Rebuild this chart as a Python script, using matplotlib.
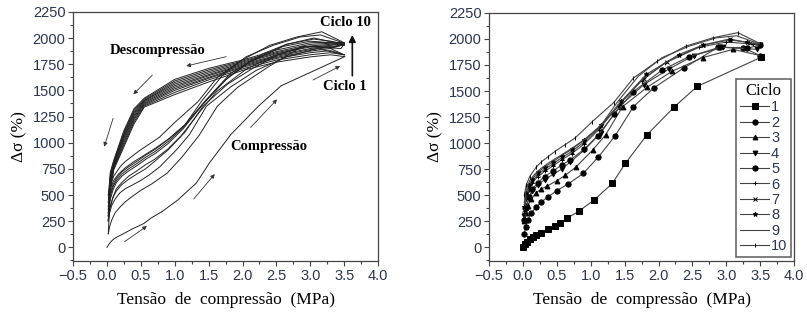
import numpy as np
import matplotlib.pyplot as plt
from matplotlib.ticker import MultipleLocator

## ------------------
## Data (compression branch, right panel and left panel loading)
## ------------------
c1_x = [0.0, 0.03, 0.06, 0.1, 0.15, 0.2, 0.27, 0.37, 0.47, 0.55, 0.65, 0.82, 1.05, 1.32, 1.51, 1.83, 2.23, 2.57, 3.51]
c1_y = [0, 30, 55, 80, 100, 115, 140, 175, 205, 230, 280, 345, 455, 615, 805, 1080, 1346, 1544, 1823]
c2_x = [0.02, 0.04, 0.07, 0.12, 0.2, 0.27, 0.37, 0.5, 0.67, 0.89, 1.11, 1.36, 1.63, 1.93, 2.37, 2.88, 3.25, 3.5]
c2_y = [130, 200, 260, 330, 390, 435, 485, 545, 610, 710, 865, 1070, 1350, 1530, 1720, 1920, 1915, 1840]
c3_x = [0.02, 0.04, 0.07, 0.12, 0.19, 0.27, 0.36, 0.5, 0.62, 0.78, 1.03, 1.22, 1.47, 1.83, 2.2, 2.65, 3.1, 3.5]
c3_y = [250, 330, 400, 460, 520, 560, 590, 640, 690, 770, 935, 1080, 1350, 1535, 1690, 1820, 1900, 1840]
c4_x = [0.02, 0.05, 0.09, 0.14, 0.22, 0.32, 0.44, 0.57, 0.7, 0.9, 1.15, 1.42, 1.78, 2.15, 2.52, 2.95, 3.45, 3.5]
c4_y = [300, 400, 480, 540, 600, 650, 700, 750, 820, 930, 1100, 1350, 1560, 1710, 1840, 1920, 1900, 1940]
c5_x = [0.02, 0.05, 0.09, 0.14, 0.22, 0.32, 0.44, 0.57, 0.7, 0.9, 1.1, 1.35, 1.62, 2.05, 2.45, 2.9, 3.3, 3.5]
c5_y = [260, 380, 480, 560, 620, 680, 730, 790, 840, 940, 1070, 1280, 1490, 1700, 1830, 1920, 1910, 1940]
c6_x = [0.02, 0.05, 0.09, 0.14, 0.22, 0.32, 0.44, 0.57, 0.72, 0.9, 1.12, 1.42, 1.75, 2.1, 2.6, 3.0, 3.4, 3.5]
c6_y = [330, 460, 550, 620, 680, 730, 780, 840, 900, 990, 1130, 1370, 1600, 1770, 1920, 1970, 1950, 1930]
c7_x = [0.02, 0.05, 0.09, 0.14, 0.22, 0.32, 0.44, 0.57, 0.72, 0.9, 1.13, 1.43, 1.78, 2.12, 2.65, 3.05, 3.35, 3.5]
c7_y = [360, 490, 580, 640, 700, 750, 800, 860, 920, 1010, 1150, 1380, 1620, 1780, 1940, 2000, 1960, 1950]
c8_x = [0.02, 0.05, 0.09, 0.14, 0.22, 0.32, 0.44, 0.57, 0.72, 0.9, 1.15, 1.45, 1.82, 2.3, 2.65, 3.05, 3.3, 3.5]
c8_y = [390, 520, 600, 660, 720, 770, 820, 880, 940, 1030, 1170, 1400, 1660, 1850, 1940, 1990, 1970, 1940]
c9_x = [0.02, 0.05, 0.1, 0.17, 0.27, 0.4, 0.55, 0.72, 0.92, 1.15, 1.4, 1.7, 2.05, 2.45, 2.85, 3.15, 3.5]
c9_y = [430, 560, 640, 700, 760, 820, 880, 950, 1040, 1170, 1400, 1640, 1820, 1930, 2010, 2030, 1950]
c10_x = [0.02, 0.05, 0.1, 0.2, 0.27, 0.37, 0.47, 0.62, 0.77, 1.02, 1.34, 1.63, 1.98, 2.4, 2.8, 3.17, 3.5]
c10_y = [500, 600, 680, 775, 820, 870, 920, 985, 1050, 1205, 1390, 1625, 1785, 1930, 2010, 2060, 1955]

## Decompression branch (left panel only)
d_x = [3.5, 3.3, 3.0, 2.5, 2.0, 1.5, 1.0, 0.55, 0.4, 0.25, 0.1, 0.05, 0.02]
d1_y = [1823, 1840, 1820, 1770, 1690, 1580, 1460, 1340, 1180, 960, 740, 540, 130]
d2_y = [1840, 1860, 1840, 1790, 1705, 1600, 1480, 1350, 1200, 980, 750, 560, 250]
d3_y = [1840, 1880, 1860, 1805, 1720, 1615, 1500, 1360, 1220, 1000, 760, 580, 300]
d4_y = [1940, 1900, 1875, 1815, 1730, 1625, 1515, 1370, 1235, 1020, 770, 600, 260]
d5_y = [1940, 1910, 1890, 1825, 1740, 1640, 1530, 1380, 1250, 1040, 780, 620, 330]
d6_y = [1930, 1920, 1900, 1835, 1750, 1650, 1545, 1390, 1265, 1055, 790, 640, 360]
d7_y = [1950, 1930, 1915, 1850, 1760, 1665, 1560, 1400, 1280, 1070, 800, 660, 390]
d8_y = [1940, 1940, 1925, 1860, 1770, 1680, 1575, 1405, 1295, 1085, 810, 680, 430]
d9_y = [1950, 1950, 1940, 1870, 1780, 1695, 1590, 1415, 1310, 1100, 820, 700, 500]
d10_y = [1955, 1960, 1955, 1885, 1790, 1710, 1605, 1425, 1325, 1115, 830, 720, 300]

comp_x = [c1_x, c2_x, c3_x, c4_x, c5_x, c6_x, c7_x, c8_x, c9_x, c10_x]
comp_y = [c1_y, c2_y, c3_y, c4_y, c5_y, c6_y, c7_y, c8_y, c9_y, c10_y]
decomp_y = [d1_y, d2_y, d3_y, d4_y, d5_y, d6_y, d7_y, d8_y, d9_y, d10_y]
cycle_labels = ["1", "2", "3", "4", "5", "6", "7", "8", "9", "10"]
markers = ["s", "o", "^", "v", "o", "+", "x", "*", "None", "|"]

SANS = "Liberation Sans"
SERIF = "Liberation Serif"
TICKCOL = "#2b3550"
FRAMECOL = "#444444"


def style_axes(ax):
    ax.set_xlim(-0.5, 4.0)
    ax.set_ylim(-130, 2250)
    ax.xaxis.set_major_locator(MultipleLocator(0.5))
    ax.xaxis.set_minor_locator(MultipleLocator(0.25))
    ax.yaxis.set_major_locator(MultipleLocator(250))
    ax.yaxis.set_minor_locator(MultipleLocator(125))
    ax.tick_params(which="both", direction="out", top=False, right=False,
                   color=FRAMECOL, width=0.8)
    ax.tick_params(which="major", length=3.5, labelsize=10.5, labelcolor=TICKCOL, pad=2)
    ax.tick_params(which="minor", length=2)
    for lab in ax.get_xticklabels() + ax.get_yticklabels():
        lab.set_fontfamily(SANS)
    for sp in ax.spines.values():
        sp.set_color(FRAMECOL)
        sp.set_linewidth(0.9)
    ax.set_xlabel("Tensão  de  compressão  (MPa)", fontfamily=SERIF, fontsize=12.5, labelpad=7)
    ax.set_ylabel("Δσ (%)", fontfamily=SERIF, fontsize=12.5, labelpad=4)


fig = plt.figure(figsize=(8.07, 3.21), dpi=100)
ax1 = fig.add_axes([0.0905, 0.187, 0.378, 0.776])
ax2 = fig.add_axes([0.606, 0.187, 0.378, 0.773])

## ------------------
## Left panel: full loops
## ------------------
for i in range(10):
    ax1.plot(comp_x[i], comp_y[i], color="#222222", lw=0.7)
    ax1.plot(d_x, decomp_y[i], color="#222222", lw=0.7)
style_axes(ax1)

arr = dict(arrowstyle="-|>", lw=0.6, color="#333333", mutation_scale=6, shrinkA=0, shrinkB=0)
arrows = [((1.76, 1822), (1.17, 1733)), ((0.67, 1646), (0.39, 1462)),
          ((0.09, 1232), (-0.04, 962)), ((0.26, 54), (0.59, 204)),
          ((1.28, 462), (1.59, 700)), ((2.12, 1146), (2.51, 1414)),
          ((3.04, 1599), (3.44, 1733))]
for start, end in arrows:
    ax1.annotate("", xy=end, xytext=start, arrowprops=arr)
ax1.annotate("", xy=(3.62, 2030), xytext=(3.62, 1640),
             arrowprops=dict(arrowstyle="-|>", lw=1.2, color="#111111",
                             mutation_scale=10, shrinkA=0, shrinkB=0))
txt = dict(fontfamily=SERIF, fontweight="bold", fontsize=10.5, ha="center", va="center")
ax1.text(0.75, 1885, "Descompressão", **txt)
ax1.text(2.38, 962, "Compressão", **txt)
ax1.text(3.52, 2150, "Ciclo 10", **txt)
ax1.text(3.51, 1535, "Ciclo 1", **txt)

## ------------------
## Right panel: compression curves per cycle
## ------------------
for i in range(10):
    mk = markers[i]
    ax2.plot(comp_x[i], comp_y[i], color="#444444", lw=0.8, marker=mk,
             markersize=3.8 if mk in ("s", "o") else 3.5, markerfacecolor="black",
             markeredgecolor="black", markeredgewidth=0.7, label=cycle_labels[i])
style_axes(ax2)
leg = ax2.legend(title="Ciclo", loc="lower right", bbox_to_anchor=(0.99, 0.016),
                 borderaxespad=0, fancybox=False, edgecolor=FRAMECOL,
                 handlelength=2.0, handletextpad=0.12, borderpad=0.25,
                 labelspacing=0.1, prop={"family": SANS, "size": 10.5})
leg.get_title().set_fontfamily(SERIF)
leg.get_title().set_fontsize(12)
leg.get_frame().set_linewidth(1.2)
for t in leg.get_texts():
    t.set_color(TICKCOL)

fig.savefig("out.png", dpi=100)
